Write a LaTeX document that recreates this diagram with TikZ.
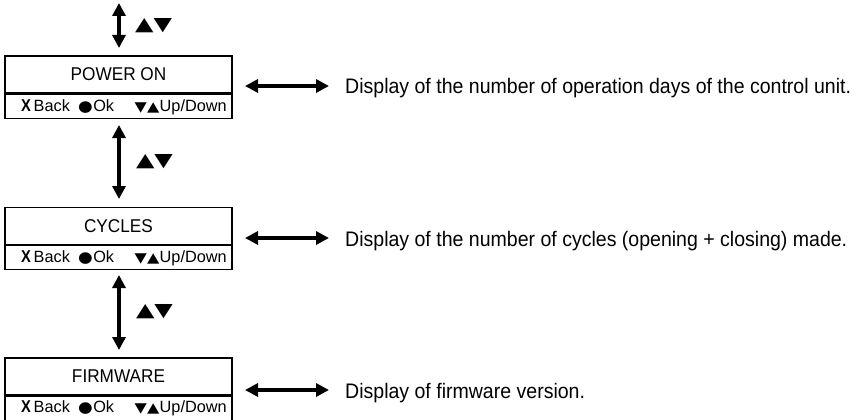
\documentclass[tikz,border=0pt]{standalone}
\usepackage{fontspec}
\setmainfont{Liberation Sans}
\newfontfamily\condfont[FakeStretch=0.93]{Liberation Sans}
\newfontfamily\symfont{DejaVu Sans}
\usetikzlibrary{arrows.meta}
\tikzset{
  titlebox/.style={draw, line width=1.3pt, minimum width=227pt, minimum height=37pt, inner sep=0pt, font=\condfont\fontsize{18.5}{18.5}\selectfont},
  statbox/.style={draw, line width=1.3pt, minimum width=227pt, minimum height=24pt, inner sep=0pt, anchor=north},
  stat/.style={inner sep=0pt, anchor=base west, font=\fontsize{16.3}{16.3}\selectfont},
  sym/.style={inner sep=0pt, anchor=base west, font=\symfont\fontsize{16}{16}\selectfont},
  vlabel/.style={inner sep=0pt, font=\symfont\fontsize{24}{24}\selectfont},
  desc/.style={inner sep=0pt, anchor=base west, font=\condfont\fontsize{21}{21}\selectfont},
  bigarrow/.style={line width=3.5pt, {Triangle[width=13pt,length=13pt]}-{Triangle[width=13pt,length=13pt]}},
}
\newcommand\statusrow[2]{%
  \node[stat] (#1x) at (21,#2) {\scalebox{0.9}[1.05]{\bfseries X}};
  \node[stat] (#1b) at (33.5,#2) {Back};
  \node[sym] (#1c) at (78,#2) {\scalebox{1.05}[0.95]{●}};
  \node[stat] (#1o) at (#1c.base east) {Ok};
  \node[sym] (#1t) at (134.5,#2) {\scalebox{1}[0.85]{▼▲}};
  \node[stat] (#1u) at (#1t.base east) {Up/Down};
}
\begin{document}
\begin{tikzpicture}[x=1pt, y=-1pt]
\useasboundingbox (0,0) rectangle (857,420);
% boxes
\node[titlebox] (t1) at (118.5,74.5) {POWER ON};
\node[statbox] (s1) at (t1.south) {};
\statusrow{a}{111}
\node[titlebox] (t2) at (118.5,226) {CYCLES};
\node[statbox] (s2) at (t2.south) {};
\statusrow{b}{262}
\node[titlebox] (t3) at (118.5,376.5) {FIRMWARE};
\node[statbox] (s3) at (t3.south) {};
\statusrow{c}{412}
% vertical arrows
\coordinate (top) at (119,3);
\coordinate (a1e) at (119,48);
\coordinate (a2s) at (119,125);
\coordinate (a2e) at (119,199);
\coordinate (a3s) at (119,275);
\coordinate (a3e) at (119,350);
\draw[bigarrow] (top) -- (a1e);
\draw[bigarrow] (a2s) -- (a2e);
\draw[bigarrow] (a3s) -- (a3e);
\node[vlabel] (l1) at (153.5,26) {\scalebox{1}[0.78]{▲▼}};
\node[vlabel] (l2) at (154.5,162) {\scalebox{1}[0.78]{▲▼}};
\node[vlabel] (l3) at (154.5,312) {\scalebox{1}[0.78]{▲▼}};
% horizontal arrows and descriptions
\coordinate (h1s) at (245,86);
\coordinate (h1e) at (329,86);
\coordinate (h2s) at (245,238);
\coordinate (h2e) at (329,238);
\coordinate (h3s) at (245,390);
\coordinate (h3e) at (329,390);
\draw[bigarrow] (h1s) -- (h1e);
\draw[bigarrow] (h2s) -- (h2e);
\draw[bigarrow] (h3s) -- (h3e);
\node[desc] (d1) at (345,94) {Display of the number of operation days of the control unit.};
\node[desc] (d2) at (345,246) {Display of the number of cycles (opening + closing) made.};
\node[desc] (d3) at (345,398) {Display of firmware version.};
\end{tikzpicture}
\end{document}
